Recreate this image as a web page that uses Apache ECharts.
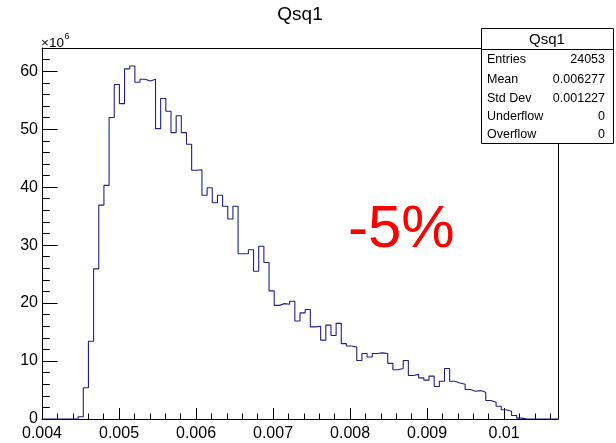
<!DOCTYPE html>
<html>
<head>
<meta charset="utf-8">
<script src="https://cdn.jsdelivr.net/npm/echarts@6/dist/echarts.min.js"></script>
<style>
html,body{margin:0;padding:0;background:#fff;}
#chart{width:616px;height:443px;}
</style>
</head>
<body>
<div id="chart"></div>
<script>
// Histogram Qsq1: 100 bins from 0.004 to 0.0107, bin contents in units of 1e6
const histName = 'Qsq1';
const xRange = [0.004, 0.0107];
const counts = [
  0, 0, 0, 0, 0, 0, 0, 0.4, 5.4, 13.4,
  25.9, 36.9, 40.3, 52.0, 57.7, 54.4, 60.4, 60.9, 58.1, 58.6,
  58.3, 58.6, 50.1, 55.3, 53.1, 49.4, 52.3, 49.4, 47.4, 42.9,
  43.0, 38.6, 39.9, 37.3, 38.6, 36.7, 34.5, 36.7, 28.5, 28.5,
  29.2, 25.5, 29.8, 27.0, 22.1, 19.6, 19.9, 19.8, 20.3, 16.9,
  18.3, 18.9, 15.9, 16.0, 13.6, 16.2, 14.4, 16.5, 13.0, 12.6,
  12.4, 10.1, 11.3, 10.7, 11.3, 11.4, 11.3, 9.6, 8.5, 8.7,
  10.1, 7.5, 7.7, 7.1, 6.7, 7.4, 5.6, 6.5, 8.7, 6.5,
  6.2, 6.0, 5.1, 4.8, 4.9, 4.6, 3.2, 2.9, 2.2, 1.6,
  1.35, 0.6, 0.15, 0, 0, 0, 0, 0, 0, 0
];
const xTickLabels = ['0.004', '0.005', '0.006', '0.007', '0.008', '0.009', '0.01'];
const yTickLabels = ['0', '10', '20', '30', '40', '50', '60'];
const yMax = 64;
const statNames = ['Entries', 'Mean', 'Std Dev', 'Underflow', 'Overflow'];
const statValues = ['24053', '0.006277', '0.001227', '0', '0'];
const annotation = '-5%';

const nBins = counts.length;
const binW = (xRange[1] - xRange[0]) / nBins;
const stepData = counts.map((c, i) => [xRange[0] + i * binW, c]);
stepData.push([xRange[1], counts[nBins - 1]]);

const FONT = '"Liberation Sans", Arial, Helvetica, sans-serif';
const chart = echarts.init(document.getElementById('chart'), null, {renderer: 'canvas'});

const gridL = 42, gridT = 48, gridW = 516, gridH = 371;

const statsX = 481, statsY = 28, statsW = 132, statsH = 115, statsSep = 49;
const rowY = [60, 79.5, 98.5, 117, 135];
const statsGraphics = [
  {type: 'rect', z: 100, shape: {x: statsX + 0.5, y: statsY + 0.5, width: statsW, height: statsH},
   style: {fill: '#fff', stroke: '#000', lineWidth: 1}},
  {type: 'line', z: 101, shape: {x1: statsX + 0.5, y1: statsSep + 0.5, x2: statsX + statsW + 0.5, y2: statsSep + 0.5},
   style: {stroke: '#000', lineWidth: 1}},
  {type: 'text', z: 101, style: {text: histName, x: statsX + statsW / 2, y: 39.5, align: 'center', verticalAlign: 'middle',
   font: '15px ' + FONT, fill: '#000'}}
];
statNames.forEach((n, i) => {
  statsGraphics.push({type: 'text', z: 101, style: {text: n, x: 487, y: rowY[i], align: 'left', verticalAlign: 'middle', font: '12.5px ' + FONT, fill: '#000'}});
  statsGraphics.push({type: 'text', z: 101, style: {text: statValues[i], x: 605, y: rowY[i], align: 'right', verticalAlign: 'middle', font: '12.5px ' + FONT, fill: '#000'}});
});

const labelFmt = v => {
  const s = Number(v.toFixed(6)).toString();
  return xTickLabels.indexOf(s) >= 0 ? s : '';
};
const yLabelFmt = v => {
  const s = String(Math.round(v));
  return yTickLabels.indexOf(s) >= 0 ? s : '';
};

const option = {
  animation: false,
  backgroundColor: '#fff',
  grid: {left: gridL, top: gridT, width: gridW, height: gridH, show: false, containLabel: false},
  xAxis: [
    {type: 'value', position: 'bottom', min: xRange[0], max: xRange[1], interval: 0.001,
     axisLine: {show: true, onZero: false, lineStyle: {color: '#000', width: 1}},
     axisTick: {show: true, inside: true, length: 11, lineStyle: {color: '#000', width: 1}},
     axisLabel: {show: true, margin: 7, fontSize: 16, fontFamily: FONT, color: '#000', showMaxLabel: false, showMinLabel: true, formatter: labelFmt},
     splitLine: {show: false}},
    {type: 'value', position: 'bottom', min: xRange[0], max: xRange[1], interval: 0.0002,
     axisLine: {show: false, onZero: false},
     axisTick: {show: true, inside: true, length: 5.5, lineStyle: {color: '#000', width: 1}},
     axisLabel: {show: false}, splitLine: {show: false}},
    {type: 'value', position: 'top', min: xRange[0], max: xRange[1],
     axisLine: {show: true, onZero: false, lineStyle: {color: '#000', width: 1}},
     axisTick: {show: false}, axisLabel: {show: false}, splitLine: {show: false}}
  ],
  yAxis: [
    {type: 'value', position: 'left', min: 0, max: yMax, interval: 10,
     axisLine: {show: true, onZero: false, lineStyle: {color: '#000', width: 1}},
     axisTick: {show: true, inside: true, length: 15.6, lineStyle: {color: '#000', width: 1}},
     axisLabel: {show: true, margin: 4, fontSize: 16, fontFamily: FONT, color: '#000', showMaxLabel: false, formatter: yLabelFmt},
     splitLine: {show: false}},
    {type: 'value', position: 'left', min: 0, max: yMax, interval: 2,
     axisLine: {show: false, onZero: false},
     axisTick: {show: true, inside: true, length: 7.8, lineStyle: {color: '#000', width: 1}},
     axisLabel: {show: false}, splitLine: {show: false}},
    {type: 'value', position: 'right', min: 0, max: yMax,
     axisLine: {show: true, onZero: false, lineStyle: {color: '#000', width: 1}},
     axisTick: {show: false}, axisLabel: {show: false}, splitLine: {show: false}}
  ],
  series: [{
    type: 'line', xAxisIndex: 0, yAxisIndex: 0, step: 'end', data: stepData,
    symbol: 'none', silent: true, clip: true,
    lineStyle: {color: '#20208a', width: 1.1},
    z: 5
  }],
  graphic: {elements: [
    {type: 'text', z: 50, style: {text: histName, x: 300, y: 15, align: 'center', verticalAlign: 'middle', font: '19px ' + FONT, fill: '#000'}},
    {type: 'text', z: 50, style: {text: '×10', x: 41, y: 43, align: 'left', verticalAlign: 'middle', font: '13.5px ' + FONT, fill: '#000'}},
    {type: 'text', z: 50, style: {text: '6', x: 64.5, y: 37, align: 'left', verticalAlign: 'middle', font: '9px ' + FONT, fill: '#000'}},
    {type: 'text', z: 50, style: {text: annotation, x: 348, y: 230, align: 'left', verticalAlign: 'middle', font: '60px ' + FONT, fill: '#ff0000'}}
  ].concat(statsGraphics)}
};
chart.setOption(option);
</script>
</body>
</html>
